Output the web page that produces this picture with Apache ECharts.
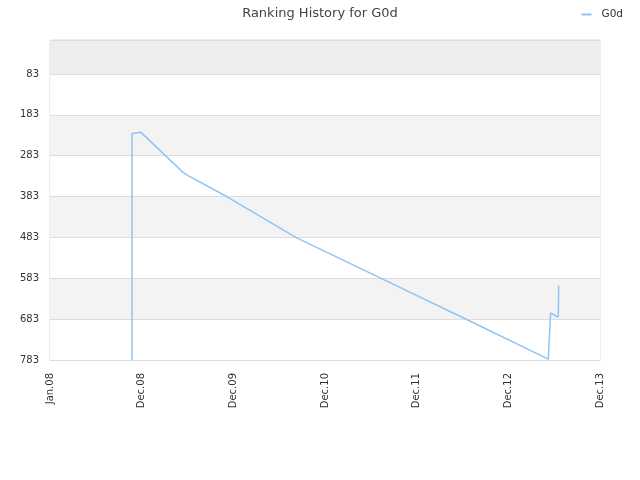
<!DOCTYPE html>
<html><head><meta charset="utf-8">
<script src="https://cdn.jsdelivr.net/npm/echarts@6/dist/echarts.min.js"></script>
<style>html,body{margin:0;padding:0;background:#fff}#c{width:640px;height:480px}</style>
</head><body><div id="c"></div>
<script>
var xLabels = ['Jan.08','Dec.08','Dec.09','Dec.10','Dec.11','Dec.12','Dec.13'];
var yTicks = [83,183,283,383,483,583,683,783];
var worstRank = 783;
// x position in axis-label units (0 = Jan.08, 1 = Dec.08, ...)
var xPos  = [0.895, 0.895, 0.905, 0.993, 1.451, 1.516, 1.928, 2.691, 3.164, 3.618, 4.546, 5.436, 5.442, 5.445, 5.458, 5.461, 5.545, 5.549];
var ranks = [783,   229,   226,   226,   324,   333,   383,   484,   535,   584,   684,   781,   783,   741,   741,   668,   678,   601];

var data = xPos.map(function(x,i){ return [x, worstRank - ranks[i]]; });
var chart = echarts.init(document.getElementById('c'), null, {renderer:'canvas'});
chart.setOption({
  backgroundColor:'#fff',
  animation:false,
  title:{text:'Ranking History for G0d', left:'center', top:2,
    textStyle:{fontFamily:'DejaVu Sans', fontSize:13, fontWeight:'normal', color:'#444'}},
  legend:{right:12, top:4, icon:'rect', itemWidth:10, itemHeight:2, itemGap:5,
    textStyle:{fontFamily:'DejaVu Sans', fontSize:10.5, color:'#333', padding:[0,0,0,5]}, data:['G0d']},
  grid:{left:50, right:40, top:40, bottom:120, show:true, borderColor:'#ddd', borderWidth:1},
  xAxis:{type:'value', min:0, max:xLabels.length-1, interval:1,
    axisLine:{show:true, lineStyle:{color:'#ddd'}}, axisTick:{show:false}, splitLine:{show:false},
    axisLabel:{rotate:90, fontFamily:'DejaVu Sans', fontSize:10, color:'#333', margin:13,
      formatter:function(v){ return xLabels[Math.round(v)] || ''; }}},
  yAxis:{type:'value', min:0, max:worstRank, interval:100,
    axisLine:{show:false}, axisTick:{show:false},
    splitLine:{show:true, lineStyle:{color:'#ddd'}},
    splitArea:{show:true, areaStyle:{color:['#ffffff','#f3f3f3','#ffffff','#f3f3f3','#ffffff','#f3f3f3','#ffffff','#eeeeee']}},
    axisLabel:{fontFamily:'DejaVu Sans', fontSize:10, color:'#333', margin:11,
      formatter:function(v){ var r = worstRank - v; return yTicks.indexOf(r) >= 0 ? String(r) : ''; }}},
  series:[{name:'G0d', type:'line', data:data, symbol:'none',
    lineStyle:{color:'#90c4f5', width:1.5}, itemStyle:{color:'#90c4f5'}}]
});
</script></body></html>
